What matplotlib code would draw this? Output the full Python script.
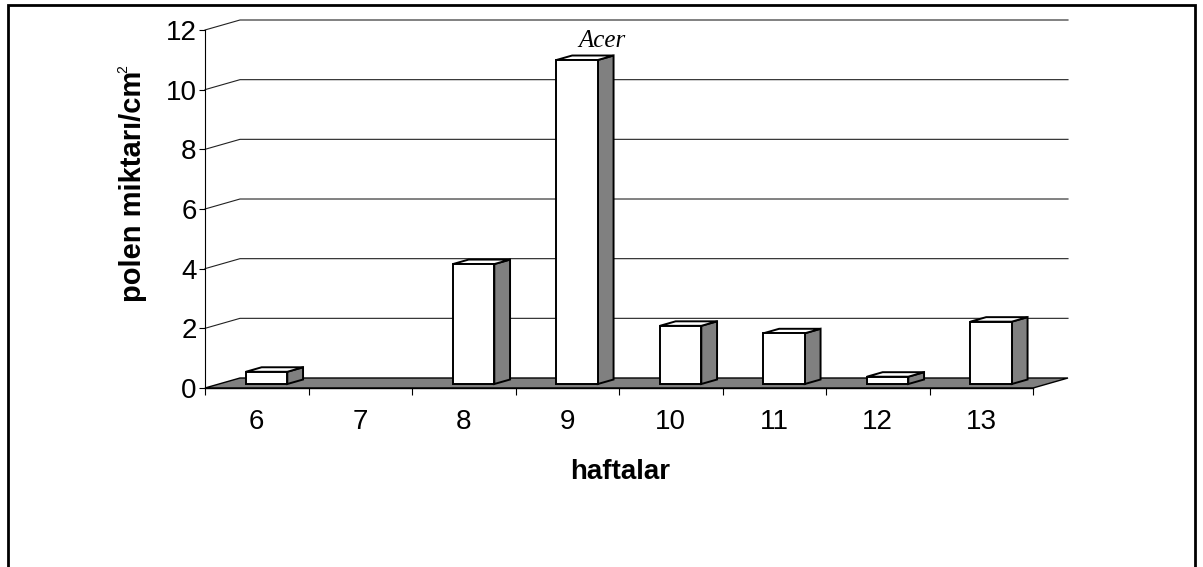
import matplotlib.pyplot as plt
from matplotlib.patches import Polygon, Rectangle

plt.rcParams['font.family'] = ['Liberation Sans', 'DejaVu Sans']

# data
weeks = ['6', '7', '8', '9', '10', '11', '12', '13']
pollen = [0.41, 0.0, 4.02, 10.86, 1.95, 1.70, 0.245, 2.09]
y_ticks = [0, 2, 4, 6, 8, 10, 12]
label_bar = 3  # the Acer peak

# fake 3d: back wall offset in data units
DX, DY = 0.338, 0.335
Z0, Z1 = 0.40, 0.85      # bar front / back depth
BAR_OFF, BAR_W = 0.26, 0.40
GREY = '#808080'

W, H = 1203, 567
fig = plt.figure(figsize=(W / 100, H / 100), dpi=100)
ax = fig.add_axes([205 / W, 1 - 388 / H, (1068 - 205) / W, (388 - 20) / H])
n = len(weeks)
ax.set_xlim(0, n + DX)
ax.set_ylim(0, y_ticks[-1] + DY)

# gridlines on the back wall with the little diagonal to the front axis
for v in y_ticks[1:]:
    ax.plot([0, DX, n + DX], [v, v + DY, v + DY], color='#222222', lw=0.8,
            zorder=1, clip_on=False)

# floor
floor = Polygon([(0, 0), (n, 0), (n + DX, DY), (DX, DY)], closed=True,
                facecolor=GREY, edgecolor='black', lw=1.0, zorder=2, clip_on=False)
ax.add_patch(floor)

# bars: front face, top, side
dz = Z1 - Z0
for i, v in enumerate(pollen):
    if v <= 0:
        continue
    x0 = i + BAR_OFF + Z0 * DX
    y0 = Z0 * DY
    ox, oy = dz * DX, dz * DY
    side = Polygon([(x0 + BAR_W, y0), (x0 + BAR_W + ox, y0 + oy),
                    (x0 + BAR_W + ox, y0 + v + oy), (x0 + BAR_W, y0 + v)],
                   closed=True, facecolor=GREY, edgecolor='black', lw=1.4,
                   zorder=3, clip_on=False)
    top = Polygon([(x0, y0 + v), (x0 + BAR_W, y0 + v),
                   (x0 + BAR_W + ox, y0 + v + oy), (x0 + ox, y0 + v + oy)],
                  closed=True, facecolor='white', edgecolor='black', lw=1.4,
                  zorder=3, clip_on=False)
    front = Rectangle((x0, y0), BAR_W, v, facecolor='white', edgecolor='black',
                      lw=1.4, zorder=4, clip_on=False)
    ax.add_patch(side)
    ax.add_patch(top)
    ax.add_patch(front)

ax.text(label_bar + 0.5 + DX, pollen[label_bar] + 0.57, 'Acer',
        family=['Liberation Serif', 'DejaVu Serif'], style='italic',
        fontsize=18, ha='center', va='baseline')

# axes
for s in ['top', 'right']:
    ax.spines[s].set_visible(False)
ax.spines['left'].set_bounds(0, y_ticks[-1])
ax.spines['bottom'].set_bounds(0, n)
ax.spines['left'].set_linewidth(0.8)
ax.spines['bottom'].set_linewidth(1.0)
ax.spines['bottom'].set_zorder(5)

ax.set_yticks(y_ticks)
ax.set_yticklabels([str(t) for t in y_ticks], fontsize=20)
ax.tick_params(axis='y', direction='out', length=4.5, width=0.8, pad=1.5)

ax.set_xticks(range(n + 1))
ax.set_xticklabels([])
ax.set_xticks([i + 0.5 for i in range(n)], minor=True)
ax.set_xticklabels(weeks, minor=True, fontsize=20)
ax.tick_params(axis='x', which='major', direction='out', length=5, width=0.8)
ax.tick_params(axis='x', which='minor', length=0, pad=15)

ax.text(0.481, -0.247, 'haftalar', transform=ax.transAxes, fontsize=20,
        fontweight='bold', ha='center', va='baseline')
ax.text(-0.0834, 0.547, 'polen miktarı/cm', transform=ax.transAxes,
        fontsize=21, fontweight='bold', rotation=90, ha='center', va='center')
ax.text(-0.095, 0.868, '2', transform=ax.transAxes,
        fontsize=10, rotation=90, ha='center', va='center')

# outer frame, bottom edge cut off
fig.add_artist(Rectangle((8 / W, -0.05), (1195 - 8) / W, 1.05 - 5 / H,
                         transform=fig.transFigure, fill=False,
                         edgecolor='black', lw=2))

fig.savefig('out.png', dpi=100)
